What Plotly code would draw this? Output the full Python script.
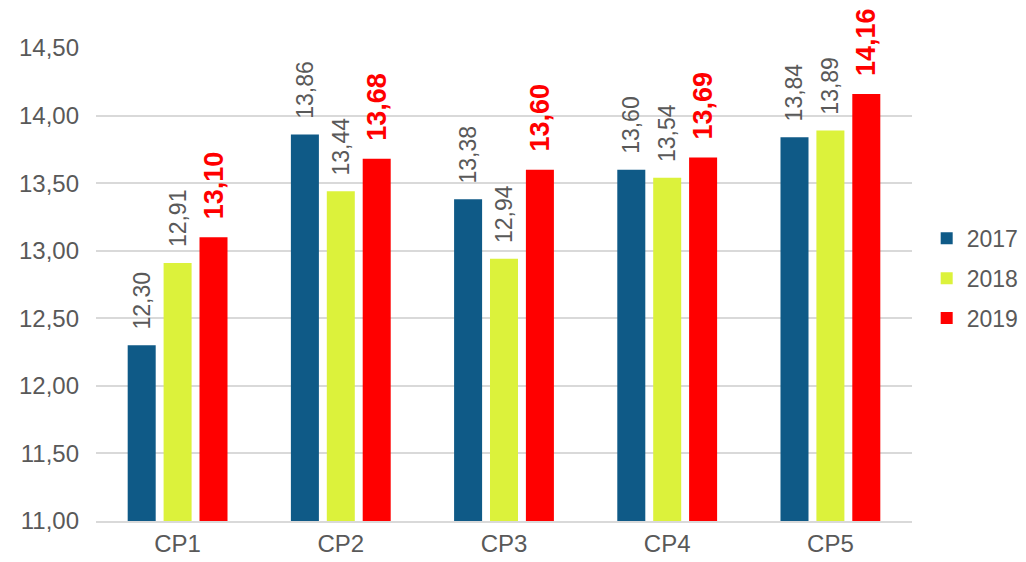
import plotly.graph_objects as go

categories = ["CP1", "CP2", "CP3", "CP4", "CP5"]
years = ["2017", "2018", "2019"]
v2017 = [12.30, 13.86, 13.38, 13.60, 13.84]
v2018 = [12.91, 13.44, 12.94, 13.54, 13.89]
v2019 = [13.10, 13.68, 13.60, 13.69, 14.16]
colors = ["#0F5A87", "#DCF23B", "#FF0000"]
tick_vals = [11.0, 11.5, 12.0, 12.5, 13.0, 13.5, 14.0, 14.5]

PAD = "\u00a0\u00a0"  # visual gap between bar top and its rotated label

fig = go.Figure()
series = [v2017, v2018, v2019]
for i, (name, vals) in enumerate(zip(years, series)):
    is_last = i == 2
    fig.add_trace(go.Bar(
        x=categories, y=vals, name=name,
        marker=dict(color=colors[i], line=dict(width=0)),
        text=[f"{v:.2f}".replace(".", ",") for v in vals],
        textposition="outside",
        textangle=-90,
        constraintext="none",
        cliponaxis=False,
        textfont=dict(family="Liberation Sans, Arial, sans-serif",
                      size=27 if is_last else 23,
                      color="#FF0000" if is_last else "#595959"),
        texttemplate=(PAD + "<b>%{text}</b>") if is_last else (PAD + "%{text}"),
        legendgroup=name,
    ))

fig.update_layout(
    width=1018, height=554,
    margin=dict(l=88, r=114, t=40, b=41, autoexpand=False),
    paper_bgcolor="white", plot_bgcolor="white",
    barmode="group", bargap=0.34, bargroupgap=0.22,
    separators=", ",
    font=dict(family="Liberation Sans, Arial, sans-serif", size=24, color="#595959"),
    legend=dict(x=1.018, y=0.513, xanchor="left", yanchor="middle",
                font=dict(size=23, color="#595959"), tracegroupgap=7,
                itemwidth=30),
    showlegend=True,
)
fig.update_yaxes(range=[11, 14.5], tickvals=tick_vals, tickformat=".2f",
                 showgrid=True, gridcolor="#D9D9D9", gridwidth=1.5,
                 zeroline=False, showline=False, ticks="", ticklabelstandoff=16,
                 tickfont=dict(size=24, color="#595959"))
fig.update_xaxes(showline=True, linecolor="#D9D9D9", linewidth=1.5,
                 ticks="", tickfont=dict(size=24, color="#595959"))

fig.write_html("out.html")
